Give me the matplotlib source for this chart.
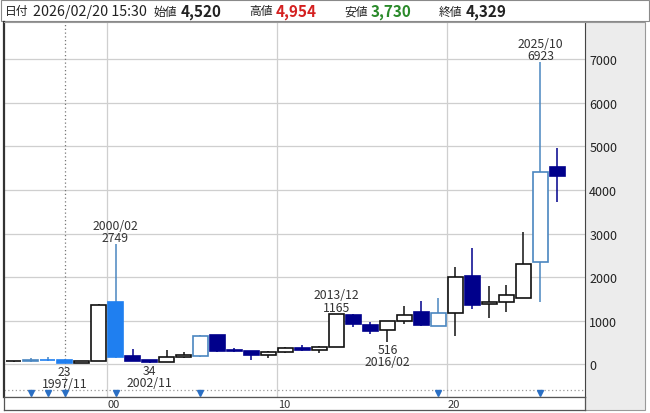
import matplotlib
matplotlib.use('Agg')
import matplotlib.pyplot as plt
from matplotlib.patches import Rectangle

plt.rcParams['font.family'] = ['Noto Sans CJK JP', 'DejaVu Sans']

#---------------------------- data ----------------------------#
years = list(range(1994, 2027))
opens = [65, 70, 110, 100, 40, 75, 1436, 197, 95, 60, 165, 200, 670, 320, 300, 215, 290, 380,
         330, 400, 1140, 900, 780, 1000, 1190, 890, 1170, 2030, 1390, 1420, 1530, 2340, 4520]
highs = [80, 140, 170, 120, 80, 1380, 2749, 350, 110, 335, 280, 670, 680, 380, 310, 300, 400, 440,
         420, 1165, 1150, 980, 1000, 1330, 1445, 1520, 2225, 2660, 1800, 1820, 3040, 6923, 4954]
lows = [60, 60, 85, 23, 35, 65, 140, 70, 34, 50, 150, 165, 280, 280, 110, 150, 250, 300,
        260, 390, 850, 700, 516, 930, 870, 880, 660, 1270, 1060, 1190, 1520, 1420, 3730]
closes = [70, 110, 95, 40, 70, 1360, 175, 83, 60, 165, 220, 650, 310, 300, 215, 290, 370, 330,
          400, 1150, 920, 770, 990, 1120, 900, 1170, 2010, 1370, 1420, 1580, 2300, 4400, 4329]

# years with a split marker (drawn in blue)
split_years = [1995, 1996, 1997, 2000, 2005, 2019, 2025]

# labelled extremes: (year, value, date text, above?)
marks = [(2000, 2749, '2000/02', True), (2013, 1165, '2013/12', True), (2025, 6923, '2025/10', True),
         (1997, 23, '1997/11', False), (2002, 34, '2002/11', False), (2016, 516, '2016/02', False)]

yticks = [0, 1000, 2000, 3000, 4000, 5000, 6000, 7000]
xgrid_years = [2000, 2010, 2020]
xgrid_labels = ['00', '10', '20']

#---------------------------- figure ----------------------------#
W, H = 650, 414
fig = plt.figure(figsize=(W / 100, H / 100), dpi=100)
fig.patch.set_facecolor('white')

def fx(x):
    return x / W

def fy(y):
    return 1 - y / H

# gray panel behind price labels
fig.patches.append(Rectangle((fx(585), fy(411)), fx(645) - fx(585), fy(23) - fy(411),
                             transform=fig.transFigure, facecolor='#ececec', edgecolor='#999999',
                             lw=0.8, zorder=-2))
# header box
fig.patches.append(Rectangle((fx(1), fy(22)), fx(648), fy(1) - fy(22), transform=fig.transFigure,
                             facecolor='white', edgecolor='#8a8a8a', lw=0.8, zorder=-2))

ax = fig.add_axes([fx(4), fy(398), fx(585) - fx(4), fy(23) - fy(398)])
ax.set_xlim(1993.44, 2027.62)
ax.set_ylim(-750, 7852)

navy = '#00008b'
sblue = '#1f7ff0'
sline = '#4a86c0'

for i, yr in enumerate(years):
    o, h, l, c = opens[i], highs[i], lows[i], closes[i]
    up = c >= o
    if yr in split_years:
        face = 'white' if up else sblue
        edge = sline if up else sblue
        wick = sline
    else:
        face = 'white' if up else navy
        edge = '#111111' if up else navy
        wick = '#111111' if up else navy
    ax.vlines(yr, l, h, color=wick, lw=1.1, zorder=2)
    ax.bar(yr, abs(c - o), bottom=min(o, c), width=0.9, facecolor=face, edgecolor=edge,
           lw=1.2, zorder=3)

for yr, val, dt, above in marks:
    if above:
        ax.annotate(dt + '\n' + str(val), (yr, val), xytext=(0, 0), textcoords='offset points',
                    ha='center', va='bottom', fontsize=8.8, color='#333333', linespacing=0.92, zorder=5)
    else:
        ax.annotate(str(val) + '\n' + dt, (yr, val), xytext=(0, -1), textcoords='offset points',
                    ha='center', va='top', fontsize=8.8, color='#333333', linespacing=0.92, zorder=5)

# grid
for v in yticks:
    ax.axhline(v, color='#cfcfcf', lw=0.9, zorder=0)
for yr in xgrid_years:
    ax.axvline(yr - 0.5, color='#cfcfcf', lw=0.9, zorder=0)
ax.axvline(1997, color='#777777', lw=0.9, ls=(0, (1, 2)), zorder=1)

# split markers
ax.axhline(-590, color='#999999', lw=0.9, ls=(0, (1, 2)), zorder=1)
ax.plot(split_years, [-650] * len(split_years), ls='none', marker='v', ms=5,
        color='#2a6fc4', zorder=4)

ax.yaxis.tick_right()
ax.set_yticks(yticks)
ax.set_yticklabels([str(v) for v in yticks])
ax.tick_params(axis='y', length=0, pad=3, labelsize=9, labelcolor='#222222')
ax.set_xticks([])
ax.spines['left'].set_color('#333333')
ax.spines['left'].set_linewidth(1.6)
ax.spines['right'].set_color('#444444')
ax.spines['top'].set_color('#999999')
ax.spines['bottom'].set_color('#555555')

# x label strip
sx = fig.add_axes([fx(4), fy(411), fx(585) - fx(4), fy(398) - fy(411)])
sx.set_xlim(ax.get_xlim())
sx.set_ylim(0, 1)
sx.set_xticks([])
sx.set_yticks([])
for k in sx.spines:
    sx.spines[k].set_color('#555555')
    sx.spines[k].set_linewidth(0.9)
for yr, lab in zip(xgrid_years, xgrid_labels):
    sx.text(yr - 0.45, 0.45, lab, ha='left', va='center', fontsize=8, color='#333333')

# header text
ty = fy(12)
fig.text(fx(5), ty, '日付', fontsize=8.5, va='center', color='#222222')
fig.text(fx(33), ty, '2026/02/20 15:30', fontsize=10.3, va='center', color='#222222')
fig.text(fx(154), ty, '始値', fontsize=8.5, va='center', color='#222222')
fig.text(fx(181), ty, '4,520', fontsize=11, fontweight='bold', va='center', color='#222222')
fig.text(fx(249), ty, '高値', fontsize=8.5, va='center', color='#222222')
fig.text(fx(276), ty, '4,954', fontsize=11, fontweight='bold', va='center', color='#d42020')
fig.text(fx(344), ty, '安値', fontsize=8.5, va='center', color='#222222')
fig.text(fx(371), ty, '3,730', fontsize=11, fontweight='bold', va='center', color='#2a8a2a')
fig.text(fx(439), ty, '終値', fontsize=8.5, va='center', color='#222222')
fig.text(fx(466), ty, '4,329', fontsize=11, fontweight='bold', va='center', color='#222222')

fig.savefig('out.png', dpi=100)
